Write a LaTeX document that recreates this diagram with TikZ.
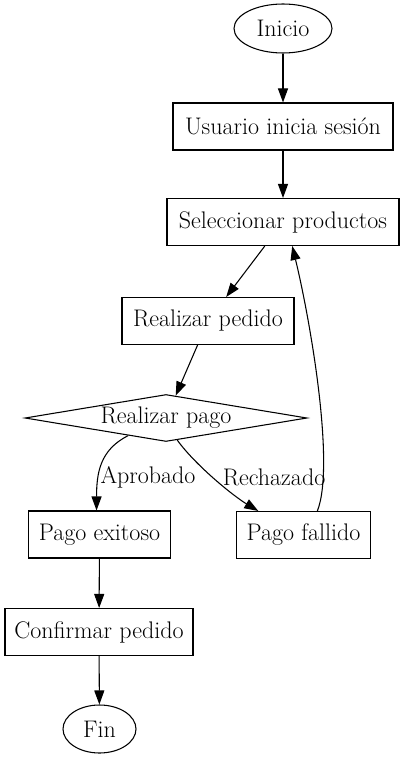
\documentclass[tikz,border=0pt]{standalone}
\usetikzlibrary{shapes.geometric,arrows.meta}
\tikzset{
  caja/.style={draw,line width=0.8pt,rectangle,minimum height=35.25pt,inner xsep=2pt,font=\fontsize{18}{21}\selectfont},
  terminal/.style={draw,line width=0.8pt,ellipse,inner sep=0pt,font=\fontsize{18}{21}\selectfont},
  decision/.style={draw,line width=0.8pt,diamond,aspect=6,inner sep=0pt,minimum width=211.5pt,minimum height=35.25pt,font=\fontsize{18}{21}\selectfont},
  etiqueta/.style={inner sep=0pt,font=\fontsize{18}{21}\selectfont},
  flecha/.style={line width=0.8pt,-{Triangle[length=10.5pt,width=7.5pt]}}
}
\begin{document}
\begin{tikzpicture}[x=0.75pt,y=-0.75pt]
  \useasboundingbox (0,0) rectangle (405,759);
  \node[terminal,minimum width=73.5pt,minimum height=36.75pt] (ini) at (283,28.5) {Inicio};
  \node[caja,minimum width=165pt] (usr) at (283,126.5) {Usuario inicia sesión};
  \node[caja,minimum width=174pt] (sel) at (283,222) {Seleccionar productos};
  \node[caja,minimum width=129pt] (ped) at (208,321) {Realizar pedido};
  \node[decision] (pago) at (166,418) {Realizar pago}; %rombo
  \node[caja,minimum width=107pt] (exito) at (99.5,534.5) {Pago exitoso};
  \node[caja,minimum width=100pt] (fallo) at (303.5,535) {Pago fallido};
  \node[caja,minimum width=141pt] (conf) at (99,632) {Confirmar pedido};
  \node[terminal,minimum width=54.75pt,minimum height=36pt] (fin) at (99.5,729) {Fin};

  \draw[flecha] (ini) -- (usr);
  \draw[flecha] (usr) -- (sel);
  \draw[flecha] (sel) -- (ped);
  \draw[flecha] (ped) -- (pago);
  \draw[flecha] (pago.205) .. controls +(-28,14) and +(0,-38) .. (exito.97); %aprobado
  \draw[flecha] (pago.297) .. controls +(18,25) and +(-25,-15) .. (fallo.152); %rechazado
  \draw[flecha] (fallo.60) .. controls +(18,-46) and +(18,74) .. (sel.291); %vuelta
  \draw[flecha] (exito) -- (conf);
  \draw[flecha] (conf) -- (fin);

  \node[etiqueta] (lblok) at (148,477) {Aprobado};
  \node[etiqueta] (lblno) at (274,477) {Rechazado};
\end{tikzpicture}
\end{document}
